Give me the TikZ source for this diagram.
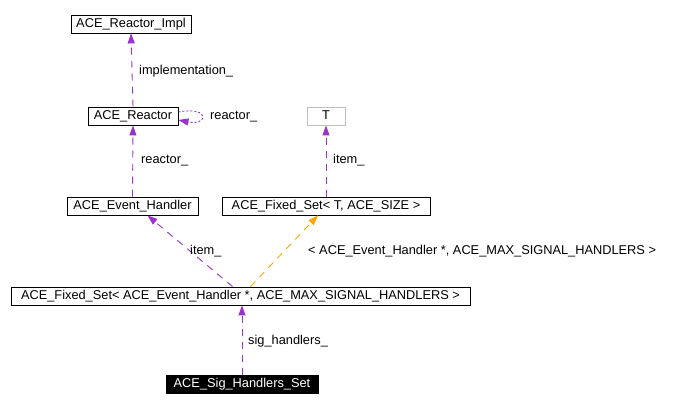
\documentclass[tikz,border=0pt]{standalone}
\usepackage{fontspec}
\setmainfont{Liberation Sans}
\usetikzlibrary{arrows.meta}
\definecolor{edgepurple}{HTML}{9A32CD}
\definecolor{edgeorange}{HTML}{FFA500}
\definecolor{tgray}{HTML}{BFBFBF}
\begin{document}
\begin{tikzpicture}[x=1pt,y=1pt,
  every node/.style={font=\fontsize{12.8}{14}\selectfont},
  cls/.style={draw=black,line width=0.9pt,fill=white,inner xsep=2pt,inner ysep=0pt,minimum height=18pt,text height=9pt,text depth=2.5pt},
  lbl/.style={anchor=west,inner sep=0pt,text height=9pt,text depth=2.5pt},
  rel/.style={draw=edgepurple,line width=0.9pt,dash pattern=on 7pt off 6pt,-{Triangle[length=10pt,width=7pt]}},
  tmpl/.style={draw=edgeorange,line width=0.9pt,dash pattern=on 7pt off 6pt,-{Triangle[length=10pt,width=7pt]}}]
\useasboundingbox (0,0) rectangle (678,411);
\fill[white] (0,0) rectangle (678,411);
\node[cls,minimum width=120pt] (impl) at (131,387) {ACE\_Reactor\_Impl};
\node[cls,minimum width=90pt] (reactor) at (133,295) {ACE\_Reactor};
\node[cls,draw=tgray,minimum width=38pt] (t) at (326,295) {T};
\node[cls,minimum width=131pt] (evh) at (132.5,205) {ACE\_Event\_Handler};
\node[cls,minimum width=208pt] (fst) at (326,205) {ACE\_Fixed\_Set< T, ACE\_SIZE >};
\node[cls,minimum width=459pt] (big) at (240.5,115) {ACE\_Fixed\_Set< ACE\_Event\_Handler *, ACE\_MAX\_SIGNAL\_HANDLERS >};
\node[cls,fill=black,text=white,minimum width=152pt] (sig) at (242,27) {ACE\_Sig\_Handlers\_Set};
% edges
\draw[rel] (reactor.north) -- (impl.south);
\node[lbl] (limpl) at (139,340) {implementation\_};
\draw[rel,dash pattern=on 2pt off 2pt] ([yshift=4pt]reactor.east) .. controls +(32,6) and +(30,-6) .. ([yshift=-4pt]reactor.east);
\node[lbl] (lreact1) at (210,295) {reactor\_};
\draw[rel] (evh.north) -- (reactor.south);
\node[lbl] (lreact2) at (141,251) {reactor\_};
\draw[rel] (fst.north) -- (t.south);
\node[lbl] (litem1) at (333,251) {item\_};
\draw[rel] ([xshift=-8pt]big.north) -- ([xshift=15pt]evh.south);
\node[lbl] (litem2) at (190,160) {item\_};
\draw[tmpl] ([xshift=10pt]big.north) -- ([xshift=-8pt]fst.south);
\node[lbl] (ltmpl) at (308,160) {< ACE\_Event\_Handler *, ACE\_MAX\_SIGNAL\_HANDLERS >};
\draw[rel] (sig.north) -- ([xshift=1.5pt]big.south);
\node[lbl] (lsig) at (248,70) {sig\_handlers\_};
\end{tikzpicture}
\end{document}
